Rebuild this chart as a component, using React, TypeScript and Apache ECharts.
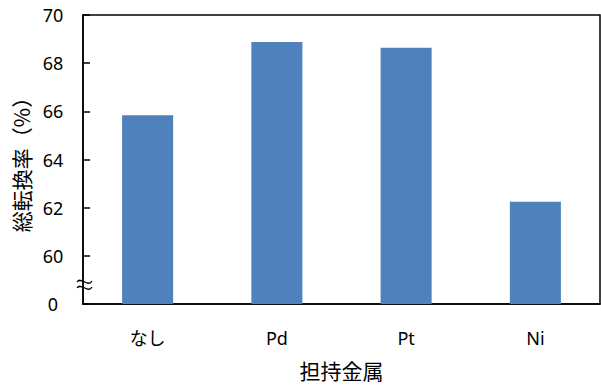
import React, { useEffect, useRef } from "react";
import * as echarts from "echarts";

const categories = ["なし", "Pd", "Pt", "Ni"];
const conversion = [65.84, 68.88, 68.64, 62.25];
const yMin = 58;
const yMax = 70;
const yStep = 2;
const brokenLabel = "0";

export default function App() {
  const ref = useRef<HTMLDivElement>(null);
  useEffect(() => {
    if (!ref.current) return;
    const chart = echarts.init(ref.current, null, { renderer: "svg" });
    const font = "'Noto Sans', 'Noto Sans CJK JP', sans-serif";
    const cjk = "'Noto Sans CJK JP', sans-serif";
    const wave = (dy: number) => ({
      type: "bezierCurve",
      shape: { x1: 77, y1: 282 + dy, cpx1: 81, cpy1: 276 + dy, cpx2: 88, cpy2: 288 + dy, x2: 92, y2: 281 + dy },
      style: { stroke: "#000", lineWidth: 1.3, fill: null },
      z: 100,
    });
    chart.setOption({
      animation: false,
      backgroundColor: "#fff",
      grid: {
        left: 83,
        right: 1,
        top: 15,
        bottom: 78,
        show: true,
        borderColor: "#000",
        borderWidth: 1.5,
      },
      xAxis: {
        type: "category",
        data: categories,
        name: "担持金属",
        nameLocation: "middle",
        nameGap: 55,
        nameTextStyle: { fontSize: 21, color: "#000", fontFamily: cjk },
        axisLine: { lineStyle: { color: "#000", width: 1.5 } },
        axisTick: { inside: true, length: 6, lineStyle: { color: "#000", width: 1.5 } },
        axisLabel: { fontSize: 18, color: "#000", fontFamily: font, margin: 25 },
      },
      yAxis: {
        type: "value",
        min: yMin,
        max: yMax,
        interval: yStep,
        startValue: yMin,
        name: "総転換率（%）",
        nameLocation: "middle",
        nameRotate: 90,
        nameGap: 51,
        nameTextStyle: { fontSize: 21, color: "#000", fontFamily: cjk },
        axisLine: { show: true, lineStyle: { color: "#000", width: 1.5 } },
        axisTick: { show: true, inside: true, length: 7, lineStyle: { color: "#000", width: 1.5 } },
        splitLine: { show: false },
        axisLabel: {
          fontSize: 18,
          color: "#000",
          fontFamily: font,
          margin: 30,
          align: "center",
          formatter: (v: number) => (v === yMin ? brokenLabel : String(v)),
        },
      },
      series: [
        {
          type: "bar",
          data: conversion,
          barWidth: "39.5%",
          itemStyle: { color: "#4F81BD" },
          clip: true,
        },
      ],
      graphic: [wave(0), wave(6)],
    });
    return () => chart.dispose();
  }, []);
  return (
    <div
      ref={ref}
      style={{ position: "fixed", left: 0, top: 0, width: 601, height: 385 }}
    />
  );
}
